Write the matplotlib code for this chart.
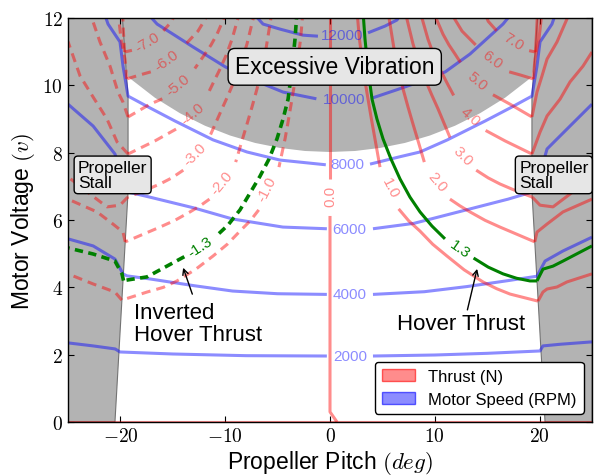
import matplotlib
matplotlib.use("Agg")
import matplotlib.pyplot as plt
import matplotlib.patches as mpatches
from matplotlib.ticker import FuncFormatter

plt.rcParams['font.family'] = ['Liberation Sans', 'DejaVu Sans']
plt.rcParams['mathtext.fontset'] = 'cm'

# --- gray regions (pitch, voltage) ---
stall_left = [(-25, 0), (-20.52, 0), (-19.27, 6.83), (-19.27, 9.68), (-19.85, 12.2), (-25, 12.2)]
stall_right = [(25, 0), (20.52, 0), (19.27, 6.83), (19.27, 9.68), (19.85, 12.2), (25, 12.2)]
vibration_edge = [(-19.27, 10.25), (-16.7, 9.63), (-14.31, 9.17), (-11.93, 8.80), (-9.54, 8.51),
                  (-7.16, 8.29), (-4.77, 8.14), (-2.39, 8.05), (0, 8.02), (2.39, 8.05),
                  (4.77, 8.14), (7.16, 8.29), (9.54, 8.51), (11.93, 8.80), (14.31, 9.17),
                  (16.7, 9.63), (19.27, 10.25)]

# --- motor speed contours (RPM): segment left of label, right of label ---
rpm_levels = [2000, 4000, 6000, 8000, 10000, 12000]
rpm_left = [
    [(-25, 2.35), (-22.6, 2.26), (-20.5, 2.17), (-20.04, 2.08), (-15, 2.02), (-8, 1.97), (-0.3, 1.96)],
    [(-25, 5.44), (-22.6, 5.23), (-20.52, 4.84), (-19.75, 4.40), (-19.37, 4.34), (-17.2, 4.25),
     (-13, 4.05), (-9.3, 3.89), (-5, 3.81), (-0.3, 3.79)],
    [(-25, 9.44), (-22.6, 8.79), (-20.52, 7.96), (-19.85, 7.37), (-19.27, 6.83), (-17.2, 6.68),
     (-13, 6.36), (-9.3, 6.03), (-4.5, 5.79), (-0.3, 5.74)],
    [(-21.6, 12.2), (-21.18, 11.82), (-20.04, 11.29), (-19.75, 10.57), (-19.27, 9.68), (-17.18, 9.33),
     (-14.79, 8.94), (-11.16, 8.38), (-7.92, 8.02), (-4.77, 7.78), (-0.4, 7.64)],
    [(-17.6, 12.2), (-16.5, 11.82), (-14.98, 11.52), (-13.07, 11.14), (-10, 10.55), (-7.63, 10.2),
     (-4.48, 9.80), (-1.3, 9.6)],
    [(-7.5, 12.2), (-6.39, 11.82), (-4.77, 11.67), (-2.58, 11.49), (-1.15, 11.46)],
]
rpm_right = [
    [(4.1, 1.96), (10, 1.99), (15, 2.04), (20.04, 2.11), (20.32, 2.26), (22, 2.31), (25, 2.38)],
    [(4.1, 3.79), (9, 3.87), (13, 4.02), (17, 4.2), (19.75, 4.33), (20.52, 4.78), (22.23, 5.08), (25, 5.49)],
    [(4.1, 5.74), (8, 5.9), (13, 6.3), (17, 6.62), (19.27, 6.83), (20.04, 7.37), (20.71, 8.11),
     (22.9, 8.79), (25, 9.44)],
    [(3.82, 7.66), (6.68, 7.88), (8.59, 8.02), (11.2, 8.38), (14.8, 8.94), (17.2, 9.33), (19.27, 9.68),
     (19.75, 10.57), (20.04, 11.29), (21.18, 11.82), (21.6, 12.2)],
    [(4.0, 9.62), (6.39, 9.87), (8.5, 10.1), (11.0, 10.4), (13.36, 10.93), (16.51, 11.82), (17.5, 12.2)],
    [(3.63, 11.56), (5.25, 11.76), (6.39, 11.94), (6.9, 12.2)],
]
rpm_label_xy = [(1.9, 1.96), (1.9, 3.80), (1.8, 5.74), (1.65, 7.65), (1.35, 9.6), (1.2, 11.5)]

# --- thrust contours (N): top -> label, label -> stall edge, inside stall ---
thrust_levels = [1.0, 2.0, 3.0, 4.0, 5.0, 6.0, 7.0]
thrust_upper = [
    [(2.58, 12.2), (2.8, 11.4), (3.05, 10.78), (3.3, 10.2), (3.63, 9.59), (3.95, 9.0), (4.29, 8.41), (4.77, 7.57)],
    [(5.53, 12.2), (6.11, 11.08), (6.5, 10.5), (6.97, 9.89), (7.45, 9.35), (7.92, 8.85), (8.45, 8.3), (9.0, 7.72)],
    [(7.16, 12.2), (7.92, 11.23), (8.45, 10.7), (9.06, 10.19), (9.7, 9.72), (10.31, 9.30), (11.45, 8.45)],
    [(8.59, 12.2), (9.35, 11.37), (9.9, 10.9), (10.5, 10.48), (11.2, 10.05), (11.8, 9.7)],
    [(9.83, 12.2), (10.78, 11.52), (11.35, 11.2), (11.93, 10.93), (12.45, 10.68)],
    [(11.45, 12.2), (12.6, 11.61), (13.9, 11.2)],
    [(14.7, 12.2), (15.1, 11.9), (15.9, 11.62)],
]
thrust_lower = [
    [(6.55, 6.33), (7.5, 5.98), (8.59, 5.67), (9.8, 5.28), (11.16, 4.93), (12.8, 4.52), (14.6, 4.16),
     (15.9, 3.96), (17.18, 3.80), (19.85, 3.59)],
    [(11.45, 6.62), (12.4, 6.42), (13.36, 6.24), (14.8, 5.99), (16.22, 5.79), (19.54, 5.35)],
    [(13.95, 7.48), (15.1, 7.25), (16.22, 7.07), (17.8, 6.86), (19.3, 6.68)],
    [(14.85, 8.66), (16.70, 8.35), (19.27, 7.96)],
    [(15.55, 9.72), (17.18, 9.44), (19.27, 9.06)],
    [(17.1, 10.4), (18.13, 10.31), (19.4, 10.19)],
    [(19.0, 11.03), (19.6, 10.99)],
]
thrust_stall = [
    [(19.85, 3.59), (20.32, 3.86), (20.71, 3.95), (21.66, 4.01), (22.61, 4.16), (25, 4.40)],
    [(19.54, 5.35), (19.75, 5.64), (20.71, 5.88), (22.23, 6.24), (25, 6.62)],
    [(19.3, 6.68), (20.04, 6.44), (21.28, 6.39), (22.9, 6.77), (25, 7.28)],
    [(19.27, 7.96), (20.04, 8.61), (20.71, 9.09), (21.95, 9.59), (22.9, 10.10), (24.14, 10.57), (25, 10.99)],
    [(19.27, 9.06), (19.75, 9.80), (20.23, 10.28), (20.71, 10.78), (21.66, 11.29), (22.61, 11.97), (22.7, 12.2)],
    [(19.4, 10.19), (19.56, 10.78), (19.94, 11.37), (20.23, 12.2)],
    [(19.6, 10.99), (19.7, 11.52), (19.8, 12.2)],
]
thrust_label_xy = [(5.73, 6.95), (10.21, 7.13), (12.69, 7.92), (13.36, 9.1),
                   (14.03, 10.13), (15.46, 10.78), (17.5, 11.3)]
thrust_label_rot = [-63, -50, -45, -42, -40, -37, -32]

neg_levels = [-1.0, -2.0, -3.0, -4.0, -5.0, -6.0, -7.0]
neg_upper = [
    [(-2.58, 12.2), (-2.8, 11.4), (-3.05, 10.78), (-3.3, 10.2), (-3.63, 9.59), (-3.95, 9.0), (-4.29, 8.41), (-4.87, 7.57)],
    [(-5.53, 12.2), (-6.11, 11.08), (-6.5, 10.5), (-6.97, 9.89), (-7.45, 9.35), (-7.92, 8.85), (-8.45, 8.3), (-9.0, 7.72)],
    [(-7.16, 12.2), (-7.92, 11.23), (-8.45, 10.7), (-9.06, 10.19), (-9.7, 9.72), (-10.31, 9.30), (-11.45, 8.5)],
    [(-8.59, 12.2), (-9.35, 11.37), (-9.9, 10.9), (-10.5, 10.48), (-11.1, 10.1), (-11.6, 9.78)],
    [(-9.83, 12.2), (-10.78, 11.52), (-11.35, 11.2), (-11.93, 10.93), (-12.9, 10.5)],
    [(-11.45, 12.2), (-12.6, 11.61), (-13.9, 11.18)],
    [(-14.7, 12.2), (-15.1, 11.9), (-15.9, 11.62)],
]
neg_lower = [
    [(-6.8, 6.3), (-7.6, 5.98), (-8.59, 5.67), (-9.8, 5.28), (-11.16, 4.93), (-12.8, 4.54), (-14.6, 4.19),
     (-15.9, 4.0), (-17.46, 3.86), (-19.86, 3.62)],
    [(-11.5, 6.62), (-12.4, 6.42), (-13.36, 6.24), (-14.8, 5.99), (-16.22, 5.79), (-19.54, 5.35)],
    [(-14.0, 7.48), (-15.1, 7.25), (-16.22, 7.07), (-17.8, 6.86), (-19.3, 6.68)],
    [(-14.69, 8.70), (-16.70, 8.35), (-19.27, 7.96)],
    [(-16.0, 9.6), (-17.18, 9.44), (-19.27, 9.06)],
    [(-17.1, 10.4), (-18.13, 10.31), (-19.4, 10.19)],
    [(-18.9, 11.04), (-19.6, 10.99)],
]
neg_stall = [
    [(-19.86, 3.62), (-20.52, 3.86), (-22.6, 4.10), (-25, 4.40)],
    [(-19.54, 5.35), (-19.75, 5.64), (-20.71, 5.88), (-22.23, 6.24), (-25, 6.62)],
    [(-19.3, 6.68), (-20.04, 6.44), (-21.28, 6.39), (-22.9, 6.77), (-25, 7.28)],
    [(-19.27, 7.96), (-20.32, 8.32), (-21.28, 9.0), (-22.6, 9.65), (-23.85, 10.28), (-25, 11.3)],
    [(-19.27, 9.06), (-19.75, 9.50), (-20.23, 9.80), (-20.99, 10.57), (-21.95, 11.29), (-22.7, 11.97), (-22.8, 12.2)],
    [(-19.4, 10.19), (-19.56, 10.78), (-19.94, 11.37), (-20.23, 12.2)],
    [(-19.6, 10.99), (-19.7, 11.52), (-19.8, 12.2)],
]
neg_label_xy = [(-6.0, 6.92), (-10.31, 7.13), (-12.9, 7.95), (-13.1, 9.17),
                (-14.5, 10.01), (-15.55, 10.76), (-17.45, 11.28)]
neg_label_rot = [63, 50, 45, 41, 39, 36, 31]

# zero thrust line
zero_upper = [(0, 12.2), (0, 7.22)]
zero_lower = [(0, 6.12), (0, 0.30), (0.67, 0)]
zero_floor = [(-25, 0), (25, 0)]
zero_label_xy = (0, 6.72)

# hover thrust (+1.3 N) and inverted hover (-1.3 N)
hover_upper = [(3.15, 12.2), (3.34, 11.37), (3.63, 10.48), (4.01, 9.59), (4.48, 9.0), (5.06, 8.41),
               (5.82, 7.81), (6.68, 7.22), (7.63, 6.68), (8.59, 6.24), (9.73, 5.82), (10.97, 5.44)]
hover_lower = [(13.7, 4.87), (15.1, 4.6), (16.51, 4.40), (17.8, 4.27), (19.08, 4.19), (19.75, 4.19)]
hover_stall = [(19.75, 4.19), (20.32, 4.54), (21.28, 4.63), (22.23, 4.78), (25, 5.23)]
inv_upper = [(-3.15, 12.2), (-3.34, 11.37), (-3.63, 10.48), (-4.0, 9.59), (-4.48, 9.0), (-5.06, 8.41),
             (-5.82, 7.81), (-6.68, 7.3), (-7.63, 6.8), (-8.59, 6.3), (-9.73, 5.85), (-10.97, 5.49)]
inv_lower = [(-13.9, 4.91), (-15.74, 4.60), (-17.46, 4.31), (-19.7, 4.2)]
inv_stall = [(-19.7, 4.2), (-19.85, 4.40), (-20.52, 4.78), (-22.6, 4.99), (-25, 5.17)]

RED = (1.0, 0.0, 0.0, 0.45)
BLUE = (0.0, 0.0, 1.0, 0.45)
GREEN = '#008000'
GRAY = '0.7'


def line(ax, pts, **kw):
    xs = [p[0] for p in pts]
    ys = [p[1] for p in pts]
    ax.plot(xs, ys, solid_capstyle='butt', dash_capstyle='butt', solid_joinstyle='round', **kw)


fig = plt.figure(figsize=(5.98, 4.77), dpi=100)
ax = fig.add_axes([68 / 598, 54 / 477, 524 / 598, 404 / 477])

# gray regions: vibration cap runs in behind the stall strips
ax.add_patch(mpatches.Polygon(vibration_edge + [(20.5, 12.2), (-20.5, 12.2)],
                              closed=True, facecolor=GRAY, edgecolor='none', zorder=0))
for poly in (stall_left, stall_right):
    ax.add_patch(mpatches.Polygon(poly, closed=True, facecolor=GRAY,
                                  edgecolor='0.45', lw=0.8, zorder=0))

# motor speed
for lev, left, right, (lx, ly) in zip(rpm_levels, rpm_left, rpm_right, rpm_label_xy):
    line(ax, left, color=BLUE, lw=2.2, zorder=2)
    line(ax, right, color=BLUE, lw=2.2, zorder=2)
    ax.text(lx, ly, '%d' % lev, color=BLUE, fontsize=11, ha='center', va='center', zorder=3)

# positive thrust
for lev, up, lo, st, (lx, ly), rot in zip(thrust_levels, thrust_upper, thrust_lower,
                                          thrust_stall, thrust_label_xy, thrust_label_rot):
    for seg in (up, lo, st):
        line(ax, seg, color=RED, lw=2.2, zorder=2)
    ax.text(lx, ly, '%.1f' % lev, color=RED, fontsize=11, rotation=rot,
            ha='center', va='center', rotation_mode='anchor', zorder=3)

# negative thrust
for lev, up, lo, st, (lx, ly), rot in zip(neg_levels, neg_upper, neg_lower,
                                          neg_stall, neg_label_xy, neg_label_rot):
    for seg in (up, lo, st):
        line(ax, seg, color=RED, lw=2.2, dashes=(3, 2), zorder=2)
    ax.text(lx, ly, '%.1f' % lev, color=RED, fontsize=11, rotation=rot,
            ha='center', va='center', rotation_mode='anchor', zorder=3)

# zero thrust
line(ax, zero_upper, color=RED, lw=2.2, zorder=2)
line(ax, zero_lower, color=RED, lw=2.2, zorder=2)
line(ax, zero_floor, color=RED, lw=1.5, zorder=2, clip_on=False)
ax.text(zero_label_xy[0], zero_label_xy[1], '0.0', color=RED, fontsize=11, rotation=90,
        ha='center', va='center', zorder=3)

# hover lines
for seg in (hover_upper, hover_lower, hover_stall):
    line(ax, seg, color=GREEN, lw=2.2, zorder=4)
ax.text(12.4, 5.15, '1.3', color=GREEN, fontsize=11, rotation=-35,
        ha='center', va='center', rotation_mode='anchor', zorder=4)
for seg in (inv_upper, inv_lower, inv_stall):
    line(ax, seg, color=GREEN, lw=2.6, dashes=(2.3, 1.5), zorder=4)
ax.text(-12.4, 5.2, '-1.3', color=GREEN, fontsize=11, rotation=33,
        ha='center', va='center', rotation_mode='anchor', zorder=4)

# annotations
box = dict(boxstyle='round,pad=0.3', facecolor='0.9', edgecolor='black', lw=1)
ax.text(0.45, 10.55, 'Excessive Vibration', fontsize=16.5, ha='center', va='center',
        bbox=box, zorder=6)
stall_box = dict(boxstyle='round,pad=0.22', facecolor='0.9', edgecolor='black', lw=1)
ax.text(-24.05, 7.34, 'Propeller\nStall', fontsize=12.5, ha='left', va='center',
        linespacing=1.0, bbox=stall_box, zorder=6)
ax.text(18.05, 7.34, 'Propeller\nStall', fontsize=12.5, ha='left', va='center',
        linespacing=1.0, bbox=stall_box, zorder=6)

ax.text(-18.75, 2.92, 'Inverted\nHover Thrust', fontsize=16, ha='left', va='center',
        linespacing=1.1, zorder=6)
ax.annotate('', xy=(-14.1, 4.66), xytext=(-13.05, 3.72),
            arrowprops=dict(arrowstyle='->', color='black', lw=1), zorder=6)
ax.text(6.35, 2.92, 'Hover Thrust', fontsize=16, ha='left', va='center', zorder=6)
ax.annotate('', xy=(14.1, 4.63), xytext=(13.05, 3.25),
            arrowprops=dict(arrowstyle='->', color='black', lw=1), zorder=6)

# legend
handles = [mpatches.Patch(facecolor=RED, edgecolor=(1, 0, 0, 0.6), label='Thrust (N)'),
           mpatches.Patch(facecolor=BLUE, edgecolor=(0, 0, 1, 0.6), label='Motor Speed (RPM)')]
leg = ax.legend(handles=handles, loc='lower right', fontsize=12, fancybox=True,
                framealpha=1, edgecolor='black', borderaxespad=0.5)
leg.get_frame().set_linewidth(1)
leg.set_zorder(7)

ax.set_xlim(-25, 25)
ax.set_ylim(0, 12)
ax.set_xticks([-20, -10, 0, 10, 20])
ax.set_yticks([0, 2, 4, 6, 8, 10, 12])
fmt = FuncFormatter(lambda v, p: r'$%d$' % v)
ax.xaxis.set_major_formatter(fmt)
ax.yaxis.set_major_formatter(fmt)
ax.tick_params(direction='in', top=True, right=True, length=4.5, width=0.8, labelsize=14)
for s in ax.spines.values():
    s.set_linewidth(1)
    s.set_zorder(8)
ax.set_xlabel('Propeller Pitch $(deg)$', fontsize=16.5, labelpad=2)
ax.set_ylabel('Motor Voltage $(v)$', fontsize=16.5, labelpad=4)

fig.savefig('out.png', dpi=100)
